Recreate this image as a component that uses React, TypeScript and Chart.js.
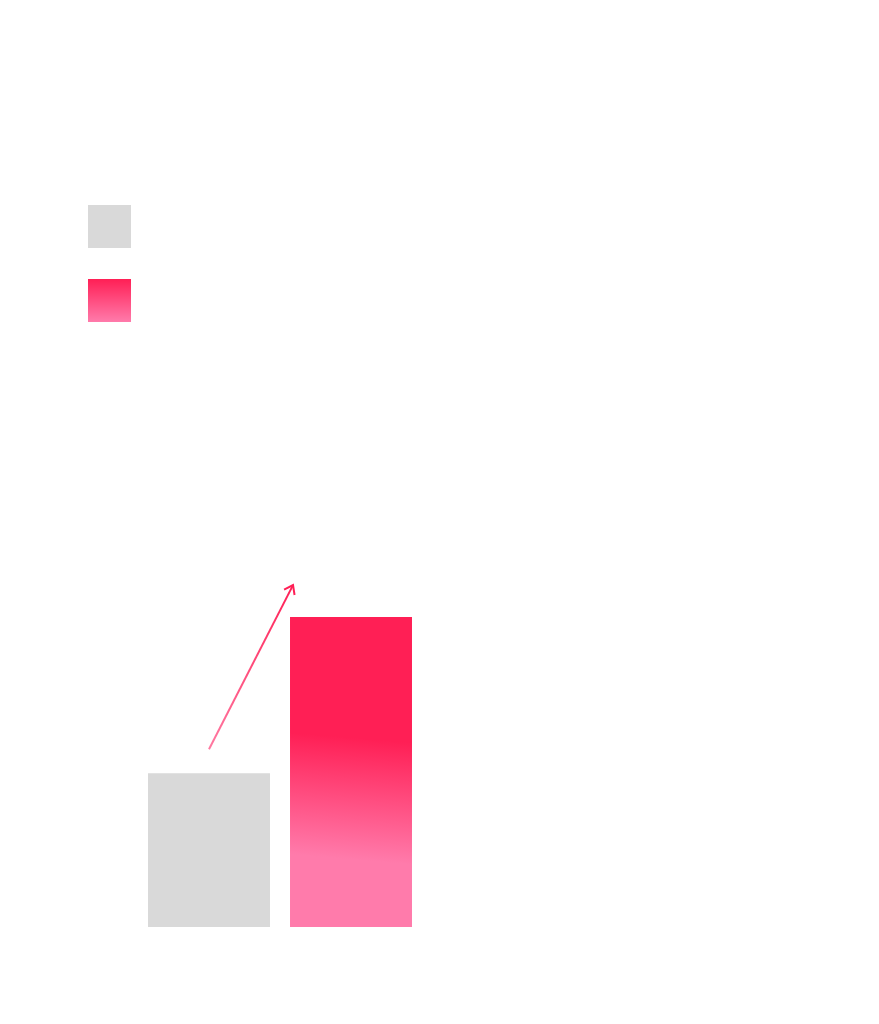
import React, { useRef, useEffect } from "react";
import { Chart, registerables } from "chart.js";

Chart.register(...registerables);

// data
const categories = ["Total"];
const seriesNames = ["Before", "After"];
const beforeValues = [49.6];
const afterValues = [100];
const yMax = 243;

const GRAY = "#d9d9d9";
const PINK_TOP = "#ff1f55";
const PINK_BOTTOM = "#ff7bab";

// vertical gradient with a slight tilt, like the reference
const barGradient = (ctx: CanvasRenderingContext2D, el: any) => {
  const left = el.x - el.width / 2;
  const right = el.x + el.width / 2;
  const top = el.y;
  const bottom = el.base;
  const cx = (left + right) / 2;
  const tilt = (bottom - top) * 0.041;
  const g = ctx.createLinearGradient(cx + tilt, top, cx - tilt, bottom);
  g.addColorStop(0, PINK_TOP);
  g.addColorStop(0.39, PINK_TOP);
  g.addColorStop(0.78, PINK_BOTTOM);
  g.addColorStop(1, PINK_BOTTOM);
  return g;
};

const decorPlugin = {
  id: "decor",
  beforeDraw(chart: any) {
    const legend = chart.legend;
    const box = legend?.legendHitBoxes?.[1];
    const item = legend?.legendItems?.[1];
    if (box && item) {
      const g = chart.ctx.createLinearGradient(0, box.top, 0, box.top + box.height);
      g.addColorStop(0, PINK_TOP);
      g.addColorStop(1, PINK_BOTTOM);
      item.fillStyle = g;
    }
  },
  beforeDatasetsDraw(chart: any) {
    const el = chart.getDatasetMeta(1).data[0];
    if (el) el.options.backgroundColor = barGradient(chart.ctx, el);
  },
  afterDatasetsDraw(chart: any) {
    const from = chart.getDatasetMeta(0).data[0];
    const to = chart.getDatasetMeta(1).data[0];
    if (!from || !to) return;
    const ctx = chart.ctx as CanvasRenderingContext2D;
    const x0 = from.x;
    const y0 = from.y - 24;
    const x1 = to.x - to.width / 2 + 3;
    const y1 = to.y - 32;
    const g = ctx.createLinearGradient(x0, y0, x1, y1);
    g.addColorStop(0, "#ff7aa2");
    g.addColorStop(1, PINK_TOP);
    ctx.save();
    ctx.strokeStyle = g;
    ctx.lineWidth = 2;
    ctx.beginPath();
    ctx.moveTo(x0, y0);
    ctx.lineTo(x1, y1);
    ctx.stroke();
    const ang = Math.atan2(y1 - y0, x1 - x0);
    const len = 10;
    const spread = (36 * Math.PI) / 180;
    ctx.strokeStyle = PINK_TOP;
    ctx.beginPath();
    ctx.moveTo(x1 - len * Math.cos(ang - spread), y1 - len * Math.sin(ang - spread));
    ctx.lineTo(x1, y1);
    ctx.lineTo(x1 - len * Math.cos(ang + spread), y1 - len * Math.sin(ang + spread));
    ctx.stroke();
    ctx.restore();
  },
};

const App = () => {
  const chartRef = useRef<HTMLCanvasElement | null>(null);
  const chartInstanceRef = useRef<Chart | null>(null);

  useEffect(() => {
    const ctx = chartRef.current?.getContext("2d");

    if (chartInstanceRef.current) {
      chartInstanceRef.current.destroy();
    }

    if (ctx) {
      chartInstanceRef.current = new Chart(ctx, {
        type: "bar",
        data: {
          labels: categories,
          datasets: [
            {
              label: seriesNames[0],
              data: beforeValues,
              backgroundColor: GRAY,
            },
            {
              label: seriesNames[1],
              data: afterValues,
              backgroundColor: () => PINK_TOP,
            },
          ],
        },
        options: {
          responsive: true,
          maintainAspectRatio: false,
          animation: false,
          layout: {
            padding: { top: 174, left: 57, right: 466, bottom: 97 },
          },
          datasets: {
            bar: {
              categoryPercentage: 1.0677,
              barPercentage: 0.859,
            },
          },
          plugins: {
            legend: {
              position: "left",
              align: "start",
              labels: {
                boxWidth: 43,
                boxHeight: 43,
                padding: 31,
                generateLabels: (chart: any) =>
                  (Chart.defaults.plugins.legend.labels as any)
                    .generateLabels(chart)
                    .map((l: any) => ({ ...l, text: "" })),
              },
            },
            tooltip: { enabled: false },
          },
          scales: {
            x: { display: false },
            y: { display: false, min: 0, max: yMax },
          },
        },
        plugins: [decorPlugin],
      });
    }

    return () => {
      if (chartInstanceRef.current) {
        chartInstanceRef.current.destroy();
      }
    };
  }, []);

  return (
    <div style={{ position: "absolute", left: 0, top: 0, width: 879, height: 1024 }}>
      <canvas ref={chartRef}></canvas>
    </div>
  );
};

export default App;
